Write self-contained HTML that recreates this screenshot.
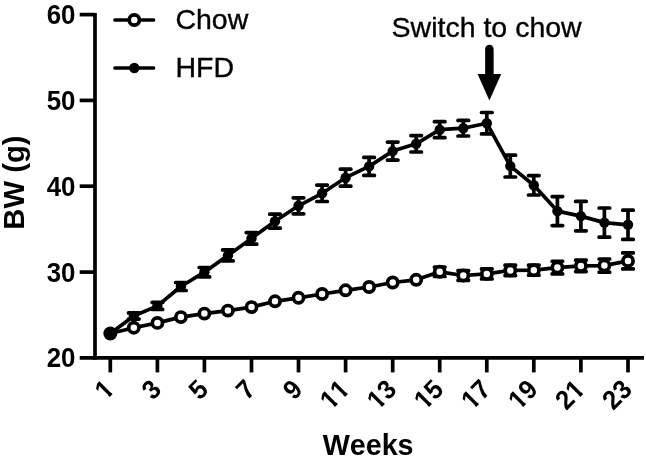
<!DOCTYPE html>
<html><head><meta charset="utf-8"><title>BW chart</title>
<style>
html,body{margin:0;padding:0;background:#fff;}
body{width:646px;height:466px;overflow:hidden;}
svg{display:block;}
text{font-family:"Liberation Sans",Arial,sans-serif;fill:#000;font-kerning:none;}
.b{font-weight:bold;}
.r{stroke:#000;stroke-width:0.35px;}
</style></head><body>
<svg width="646" height="466" viewBox="0 0 646 466">
<rect width="646" height="466" fill="#fff"/>

<g stroke="#000" stroke-width="3.7" fill="none" stroke-linecap="butt">
<path d="M95 12.9V359.8"/>
<path d="M79.7 357.9H644"/>
<path d="M79.7 272.1H95"/>
<path d="M79.7 186.2H95"/>
<path d="M79.7 100.4H95"/>
<path d="M79.7 14.6H95"/>
<path d="M110.3 357.9V372.4"/>
<path d="M157.4 357.9V372.4"/>
<path d="M204.4 357.9V372.4"/>
<path d="M251.5 357.9V372.4"/>
<path d="M298.5 357.9V372.4"/>
<path d="M345.6 357.9V372.4"/>
<path d="M392.7 357.9V372.4"/>
<path d="M439.7 357.9V372.4"/>
<path d="M486.8 357.9V372.4"/>
<path d="M533.8 357.9V372.4"/>
<path d="M580.9 357.9V372.4"/>
<path d="M628.0 357.9V372.4"/>
</g>
<text class="b" font-size="25.9" text-anchor="end" transform="translate(75.5,367.3) scale(1,1.066)">20</text>
<text class="b" font-size="25.9" text-anchor="end" transform="translate(75.5,281.5) scale(1,1.066)">30</text>
<text class="b" font-size="25.9" text-anchor="end" transform="translate(75.5,195.7) scale(1,1.066)">40</text>
<text class="b" font-size="25.9" text-anchor="end" transform="translate(75.5,109.8) scale(1,1.066)">50</text>
<text class="b" font-size="25.9" text-anchor="end" transform="translate(75.5,24.0) scale(1,1.066)">60</text>
<defs>
<clipPath id="c1" clipPathUnits="userSpaceOnUse"><path d="M-60 -40H10V-3.33H-60ZM-8.53 -3.83H-4.43V8H-8.53Z"/></clipPath>
<clipPath id="c3" clipPathUnits="userSpaceOnUse"><path d="M-60 -40H10V-3.33H-60ZM-14.18 -3.83H0.00V8H-14.18Z"/></clipPath>
<clipPath id="c5" clipPathUnits="userSpaceOnUse"><path d="M-60 -40H10V-3.33H-60ZM-14.18 -3.83H0.00V8H-14.18Z"/></clipPath>
<clipPath id="c7" clipPathUnits="userSpaceOnUse"><path d="M-60 -40H10V-3.33H-60ZM-14.18 -3.83H0.00V8H-14.18Z"/></clipPath>
<clipPath id="c9" clipPathUnits="userSpaceOnUse"><path d="M-60 -40H10V-3.33H-60ZM-14.18 -3.83H0.00V8H-14.18Z"/></clipPath>
<clipPath id="c11" clipPathUnits="userSpaceOnUse"><path d="M-60 -40H10V-3.33H-60ZM-22.71 -3.83H-18.62V8H-22.71ZM-8.53 -3.83H-4.43V8H-8.53Z"/></clipPath>
<clipPath id="c13" clipPathUnits="userSpaceOnUse"><path d="M-60 -40H10V-3.33H-60ZM-22.71 -3.83H-18.62V8H-22.71ZM-14.18 -3.83H0.00V8H-14.18Z"/></clipPath>
<clipPath id="c15" clipPathUnits="userSpaceOnUse"><path d="M-60 -40H10V-3.33H-60ZM-22.71 -3.83H-18.62V8H-22.71ZM-14.18 -3.83H0.00V8H-14.18Z"/></clipPath>
<clipPath id="c17" clipPathUnits="userSpaceOnUse"><path d="M-60 -40H10V-3.33H-60ZM-22.71 -3.83H-18.62V8H-22.71ZM-14.18 -3.83H0.00V8H-14.18Z"/></clipPath>
<clipPath id="c19" clipPathUnits="userSpaceOnUse"><path d="M-60 -40H10V-3.33H-60ZM-22.71 -3.83H-18.62V8H-22.71ZM-14.18 -3.83H0.00V8H-14.18Z"/></clipPath>
<clipPath id="c21" clipPathUnits="userSpaceOnUse"><path d="M-60 -40H10V-3.33H-60ZM-28.37 -3.83H-14.18V8H-28.37ZM-8.53 -3.83H-4.43V8H-8.53Z"/></clipPath>
<clipPath id="c23" clipPathUnits="userSpaceOnUse"><path d="M-60 -40H10V-3.33H-60ZM-28.37 -3.83H-14.18V8H-28.37ZM-14.18 -3.83H0.00V8H-14.18Z"/></clipPath>
</defs>
<text class="b" font-size="25.5" text-anchor="end" clip-path="url(#c1)" transform="translate(115.7,390.9) rotate(-45) scale(1,1.05)">1</text>
<text class="b" font-size="25.5" text-anchor="end" transform="translate(162.8,390.9) rotate(-45) scale(1,1.05)">3</text>
<text class="b" font-size="25.5" text-anchor="end" transform="translate(209.8,390.9) rotate(-45) scale(1,1.05)">5</text>
<text class="b" font-size="25.5" text-anchor="end" transform="translate(256.9,390.9) rotate(-45) scale(1,1.05)">7</text>
<text class="b" font-size="25.5" text-anchor="end" transform="translate(303.9,390.9) rotate(-45) scale(1,1.05)">9</text>
<text class="b" font-size="25.5" text-anchor="end" clip-path="url(#c11)" transform="translate(351.0,390.9) rotate(-45) scale(1,1.05)">11</text>
<text class="b" font-size="25.5" text-anchor="end" clip-path="url(#c13)" transform="translate(398.1,390.9) rotate(-45) scale(1,1.05)">13</text>
<text class="b" font-size="25.5" text-anchor="end" clip-path="url(#c15)" transform="translate(445.1,390.9) rotate(-45) scale(1,1.05)">15</text>
<text class="b" font-size="25.5" text-anchor="end" clip-path="url(#c17)" transform="translate(492.2,390.9) rotate(-45) scale(1,1.05)">17</text>
<text class="b" font-size="25.5" text-anchor="end" clip-path="url(#c19)" transform="translate(539.2,390.9) rotate(-45) scale(1,1.05)">19</text>
<text class="b" font-size="25.5" text-anchor="end" clip-path="url(#c21)" transform="translate(586.3,390.9) rotate(-45) scale(1,1.05)">21</text>
<text class="b" font-size="25.5" text-anchor="end" transform="translate(633.4,390.9) rotate(-45) scale(1,1.05)">23</text>
<text class="b" font-size="28.7" text-anchor="middle" x="368.1" y="454.8">Weeks</text>
<text class="b" font-size="29.3" text-anchor="middle" transform="translate(23.8,182.6) rotate(-90)">BW (g)</text>
<g stroke="#000" stroke-width="3.7" stroke-linecap="round"><path d="M115 20H153.5"/><path d="M115 68H153.5"/></g>
<circle cx="134.3" cy="20" r="5.1" fill="#fff" stroke="#000" stroke-width="3.7"/>
<circle cx="134.3" cy="68" r="5.2" fill="#000"/>
<text class="r" font-size="28.5" x="175.4" y="29.4">Chow</text>
<text class="r" font-size="28.5" x="175.4" y="77.3">HFD</text>
<text class="r" font-size="28.5" x="391.6" y="36.7">Switch to chow</text>
<path d="M489.4 49V76" stroke="#000" stroke-width="8.5" stroke-linecap="round" fill="none"/>
<path d="M477.6 74.1H501.2L489.4 100.4Z" fill="#000"/>
<g stroke="#000" stroke-width="3.7" fill="none" stroke-linecap="round" stroke-linejoin="round">
<path d="M439.7 267.1V276.5M434.4 267.1h10.6M434.4 276.5h10.6"/>
<path d="M463.3 270.7V280.3M458.0 270.7h10.6M458.0 280.3h10.6"/>
<path d="M486.8 268.9V278.9M481.5 268.9h10.6M481.5 278.9h10.6"/>
<path d="M510.3 265.2V275.6M505.0 265.2h10.6M505.0 275.6h10.6"/>
<path d="M533.8 265.2V275.2M528.5 265.2h10.6M528.5 275.2h10.6"/>
<path d="M557.4 261.3V273.9M552.1 261.3h10.6M552.1 273.9h10.6"/>
<path d="M580.9 260.2V271.6M575.6 260.2h10.6M575.6 271.6h10.6"/>
<path d="M604.4 259.0V272.2M599.1 259.0h10.6M599.1 272.2h10.6"/>
<path d="M628.0 252.9V268.9M622.7 252.9h10.6M622.7 268.9h10.6"/>
<polyline points="110.3,333.5 133.8,327.7 157.4,322.9 180.9,317.1 204.4,313.6 227.9,310.6 251.5,307.1 275.0,301.3 298.5,297.8 322.1,294.0 345.6,290.3 369.1,287.0 392.7,282.5 416.2,279.8 439.7,271.8 463.3,275.5 486.8,273.9 510.3,270.4 533.8,270.2 557.4,267.6 580.9,265.9 604.4,265.6 628.0,260.9"/>
</g>
<circle cx="110.3" cy="333.5" r="5.1" fill="#fff" stroke="#000" stroke-width="3.7"/>
<circle cx="133.8" cy="327.7" r="5.1" fill="#fff" stroke="#000" stroke-width="3.7"/>
<circle cx="157.4" cy="322.9" r="5.1" fill="#fff" stroke="#000" stroke-width="3.7"/>
<circle cx="180.9" cy="317.1" r="5.1" fill="#fff" stroke="#000" stroke-width="3.7"/>
<circle cx="204.4" cy="313.6" r="5.1" fill="#fff" stroke="#000" stroke-width="3.7"/>
<circle cx="227.9" cy="310.6" r="5.1" fill="#fff" stroke="#000" stroke-width="3.7"/>
<circle cx="251.5" cy="307.1" r="5.1" fill="#fff" stroke="#000" stroke-width="3.7"/>
<circle cx="275.0" cy="301.3" r="5.1" fill="#fff" stroke="#000" stroke-width="3.7"/>
<circle cx="298.5" cy="297.8" r="5.1" fill="#fff" stroke="#000" stroke-width="3.7"/>
<circle cx="322.1" cy="294.0" r="5.1" fill="#fff" stroke="#000" stroke-width="3.7"/>
<circle cx="345.6" cy="290.3" r="5.1" fill="#fff" stroke="#000" stroke-width="3.7"/>
<circle cx="369.1" cy="287.0" r="5.1" fill="#fff" stroke="#000" stroke-width="3.7"/>
<circle cx="392.7" cy="282.5" r="5.1" fill="#fff" stroke="#000" stroke-width="3.7"/>
<circle cx="416.2" cy="279.8" r="5.1" fill="#fff" stroke="#000" stroke-width="3.7"/>
<circle cx="439.7" cy="271.8" r="5.1" fill="#fff" stroke="#000" stroke-width="3.7"/>
<circle cx="463.3" cy="275.5" r="5.1" fill="#fff" stroke="#000" stroke-width="3.7"/>
<circle cx="486.8" cy="273.9" r="5.1" fill="#fff" stroke="#000" stroke-width="3.7"/>
<circle cx="510.3" cy="270.4" r="5.1" fill="#fff" stroke="#000" stroke-width="3.7"/>
<circle cx="533.8" cy="270.2" r="5.1" fill="#fff" stroke="#000" stroke-width="3.7"/>
<circle cx="557.4" cy="267.6" r="5.1" fill="#fff" stroke="#000" stroke-width="3.7"/>
<circle cx="580.9" cy="265.9" r="5.1" fill="#fff" stroke="#000" stroke-width="3.7"/>
<circle cx="604.4" cy="265.6" r="5.1" fill="#fff" stroke="#000" stroke-width="3.7"/>
<circle cx="628.0" cy="260.9" r="5.1" fill="#fff" stroke="#000" stroke-width="3.7"/>
<g stroke="#000" stroke-width="3.7" fill="none" stroke-linecap="round" stroke-linejoin="round">
<path d="M133.8 312.9V319.1M128.5 312.9h10.6M128.5 319.1h10.6"/>
<path d="M157.4 302.4V309.4M152.1 302.4h10.6M152.1 309.4h10.6"/>
<path d="M180.9 282.5V290.5M175.6 282.5h10.6M175.6 290.5h10.6"/>
<path d="M204.4 267.5V276.9M199.1 267.5h10.6M199.1 276.9h10.6"/>
<path d="M227.9 249.9V260.9M222.6 249.9h10.6M222.6 260.9h10.6"/>
<path d="M251.5 232.6V244.2M246.2 232.6h10.6M246.2 244.2h10.6"/>
<path d="M275.0 214.2V228.2M269.7 214.2h10.6M269.7 228.2h10.6"/>
<path d="M298.5 197.8V213.8M293.2 197.8h10.6M293.2 213.8h10.6"/>
<path d="M322.1 185.1V201.5M316.8 185.1h10.6M316.8 201.5h10.6"/>
<path d="M345.6 169.2V186.2M340.3 169.2h10.6M340.3 186.2h10.6"/>
<path d="M369.1 157.4V175.4M363.8 157.4h10.6M363.8 175.4h10.6"/>
<path d="M392.7 142.1V160.1M387.4 142.1h10.6M387.4 160.1h10.6"/>
<path d="M416.2 135.6V152.0M410.9 135.6h10.6M410.9 152.0h10.6"/>
<path d="M439.7 121.7V137.7M434.4 121.7h10.6M434.4 137.7h10.6"/>
<path d="M463.3 120.4V136.0M458.0 120.4h10.6M458.0 136.0h10.6"/>
<path d="M486.8 112.5V133.9M481.5 112.5h10.6M481.5 133.9h10.6"/>
<path d="M510.3 155.2V177.0M505.0 155.2h10.6M505.0 177.0h10.6"/>
<path d="M533.8 175.6V195.0M528.5 175.6h10.6M528.5 195.0h10.6"/>
<path d="M557.4 196.6V225.6M552.1 196.6h10.6M552.1 225.6h10.6"/>
<path d="M580.9 201.4V230.8M575.6 201.4h10.6M575.6 230.8h10.6"/>
<path d="M604.4 208.0V237.2M599.1 208.0h10.6M599.1 237.2h10.6"/>
<path d="M628.0 210.2V239.4M622.7 210.2h10.6M622.7 239.4h10.6"/>
<polyline points="110.3,333.5 133.8,316.0 157.4,305.9 180.9,286.5 204.4,272.2 227.9,255.4 251.5,238.4 275.0,221.2 298.5,205.8 322.1,193.3 345.6,177.7 369.1,166.4 392.7,151.1 416.2,143.8 439.7,129.7 463.3,128.2 486.8,123.2 510.3,166.1 533.8,185.3 557.4,211.1 580.9,216.1 604.4,222.6 628.0,224.8"/>
</g>
<circle cx="110.3" cy="333.5" r="5.2" fill="#000"/>
<circle cx="133.8" cy="316.0" r="5.2" fill="#000"/>
<circle cx="157.4" cy="305.9" r="5.2" fill="#000"/>
<circle cx="180.9" cy="286.5" r="5.2" fill="#000"/>
<circle cx="204.4" cy="272.2" r="5.2" fill="#000"/>
<circle cx="227.9" cy="255.4" r="5.2" fill="#000"/>
<circle cx="251.5" cy="238.4" r="5.2" fill="#000"/>
<circle cx="275.0" cy="221.2" r="5.2" fill="#000"/>
<circle cx="298.5" cy="205.8" r="5.2" fill="#000"/>
<circle cx="322.1" cy="193.3" r="5.2" fill="#000"/>
<circle cx="345.6" cy="177.7" r="5.2" fill="#000"/>
<circle cx="369.1" cy="166.4" r="5.2" fill="#000"/>
<circle cx="392.7" cy="151.1" r="5.2" fill="#000"/>
<circle cx="416.2" cy="143.8" r="5.2" fill="#000"/>
<circle cx="439.7" cy="129.7" r="5.2" fill="#000"/>
<circle cx="463.3" cy="128.2" r="5.2" fill="#000"/>
<circle cx="486.8" cy="123.2" r="5.2" fill="#000"/>
<circle cx="510.3" cy="166.1" r="5.2" fill="#000"/>
<circle cx="533.8" cy="185.3" r="5.2" fill="#000"/>
<circle cx="557.4" cy="211.1" r="5.2" fill="#000"/>
<circle cx="580.9" cy="216.1" r="5.2" fill="#000"/>
<circle cx="604.4" cy="222.6" r="5.2" fill="#000"/>
<circle cx="628.0" cy="224.8" r="5.2" fill="#000"/>
</svg></body></html>
